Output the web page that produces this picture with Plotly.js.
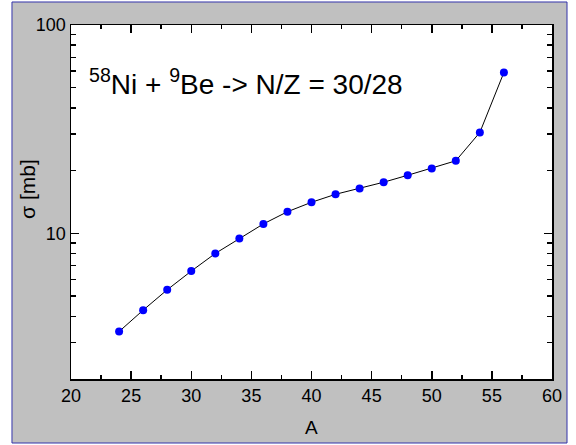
<!DOCTYPE html>
<html>
<head>
<meta charset="utf-8">
<script src="https://cdn.plot.ly/plotly-3.0.1.min.js"></script>
<style>html,body{margin:0;padding:0;background:#fff;}#chart{width:576px;height:445px;}</style>
</head>
<body>
<div id="chart"></div>
<script>
var massNumber = [24, 26, 28, 30, 32, 34, 36, 38, 40, 42, 44, 46, 48, 50, 52, 54, 56];
var crossSection = [3.38, 4.28, 5.36, 6.59, 8.01, 9.46, 11.1, 12.7, 14.1, 15.4, 16.4, 17.6, 19.0, 20.5, 22.3, 30.5, 59.2];
var xTickVals = [20, 25, 30, 35, 40, 45, 50, 55, 60];
var yTickVals = [10, 100];
var yTickText = ['10', '100'];

var FONT = 'Liberation Sans, Arial, sans-serif';

var trace = {
  x: massNumber,
  y: crossSection,
  type: 'scatter',
  mode: 'lines+markers',
  line: {color: '#000000', width: 1},
  marker: {color: '#0000ff', size: 8},
  hoverinfo: 'skip'
};

var layout = {
  width: 576,
  height: 445,
  margin: {l: 71, r: 24, t: 25, b: 66, pad: 0},
  paper_bgcolor: '#ffffff',
  plot_bgcolor: '#ffffff',
  showlegend: false,
  font: {family: FONT, color: '#000000', size: 18},
  xaxis: {
    range: [20, 60],
    tickvals: xTickVals,
    ticks: 'inside',
    ticklen: 8,
    tickwidth: 1.5,
    tickcolor: '#000',
    showline: true,
    linecolor: '#000',
    linewidth: 1.5,
    mirror: 'ticks',
    showgrid: false,
    zeroline: false,
    tickfont: {family: FONT, size: 18, color: '#000'},
    minor: {dtick: 2.5, tick0: 20, ticks: 'inside', ticklen: 4, tickwidth: 1.5, tickcolor: '#000', showgrid: false}
  },
  yaxis: {
    type: 'log',
    range: [Math.log10(2), 2],
    tickvals: yTickVals,
    ticktext: yTickText,
    ticks: 'inside',
    ticklen: 8,
    tickwidth: 1.5,
    tickcolor: '#000',
    showline: true,
    linecolor: '#000',
    linewidth: 1.5,
    mirror: 'ticks',
    showgrid: false,
    zeroline: false,
    tickfont: {family: FONT, size: 18, color: '#000'},
    minor: {dtick: 'D1', ticks: 'inside', ticklen: 5, tickwidth: 1.5, tickcolor: '#000', showgrid: false}
  },
  shapes: [
    {type: 'rect', xref: 'paper', yref: 'paper', x0: -0.1227, x1: 1.0312, y0: -0.1808, y1: 1.0650,
     fillcolor: '#c0c0c0', line: {color: '#3333aa', width: 1}, layer: 'below'},
    {type: 'rect', xref: 'paper', yref: 'paper', x0: 0, x1: 1, y0: 0, y1: 1,
     fillcolor: '#ffffff', line: {width: 0}, layer: 'below'}
  ],
  annotations: [
    {text: '<sup>58</sup>Ni + <sup>9</sup>Be -&gt; N/Z = 30/28', xref: 'paper', yref: 'paper',
     x: 0.033, y: 0.839, xanchor: 'left', yanchor: 'middle', showarrow: false,
     font: {family: FONT, size: 28, color: '#000'}},
    {text: 'σ [mb]', xref: 'paper', yref: 'paper', x: -0.0894, y: 0.537, textangle: -90,
     xanchor: 'center', yanchor: 'middle', showarrow: false, font: {family: FONT, size: 21, color: '#000'}},
    {text: 'A', xref: 'paper', yref: 'paper', x: 0.5, y: -0.138, xanchor: 'center', yanchor: 'middle',
     showarrow: false, font: {family: FONT, size: 19, color: '#000'}}
  ]
};

Plotly.newPlot('chart', [trace], layout, {staticPlot: true, displayModeBar: false});
</script>
</body>
</html>
